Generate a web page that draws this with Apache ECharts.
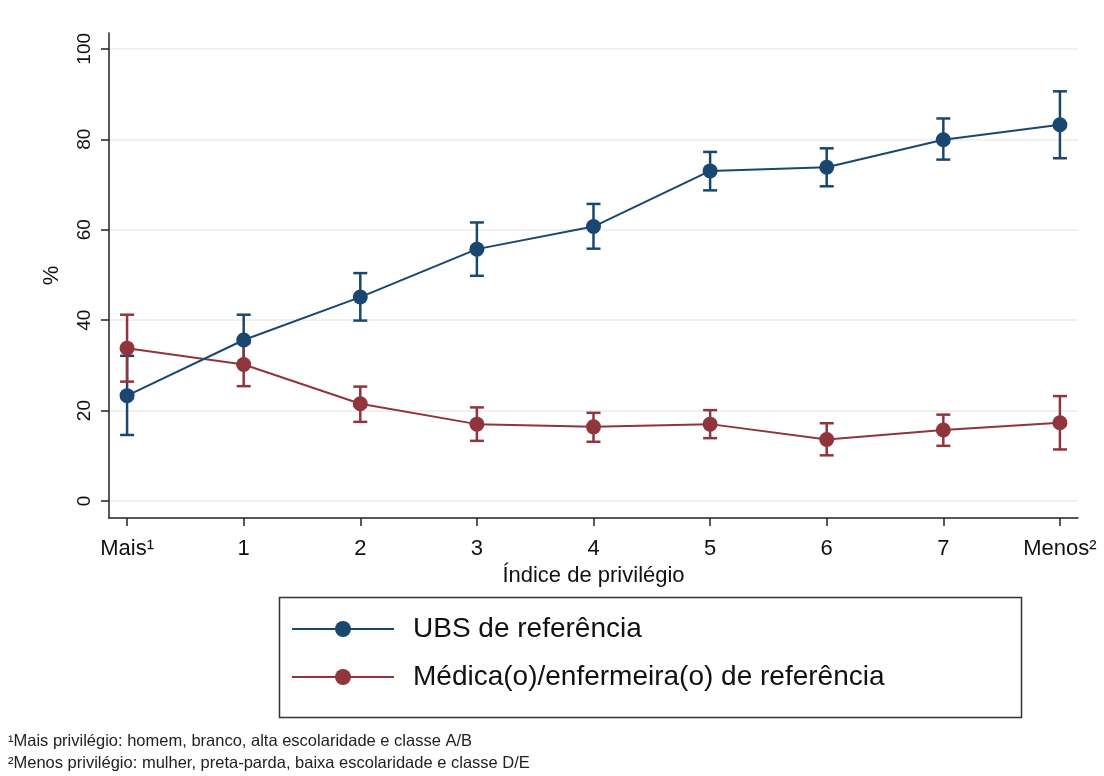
<!DOCTYPE html>
<html>
<head>
<meta charset="utf-8">
<script src="https://cdn.jsdelivr.net/npm/echarts@6/dist/echarts.min.js"></script>
<style>
html,body{margin:0;padding:0;background:#fff;}
#chart{width:1104px;height:776px;}
</style>
</head>
<body>
<div id="chart"></div>
<script>
const categories = ['Mais¹', '1', '2', '3', '4', '5', '6', '7', 'Menos²'];
const yTicks = [0, 20, 40, 60, 80, 100];

const ubsName = 'UBS de referência';
const ubs   = [23.3, 35.6, 45.1, 55.7, 60.7, 73.0, 73.8, 79.9, 83.2];
const ubsLo = [14.6, 30.0, 39.9, 49.8, 55.8, 68.7, 69.6, 75.5, 75.8];
const ubsHi = [32.1, 41.2, 50.4, 61.6, 65.7, 77.2, 78.0, 84.6, 90.6];

const medName = 'Médica(o)/enfermeira(o) de referência';
const med   = [33.8, 30.2, 21.5, 17.0, 16.4, 17.0, 13.6, 15.7, 17.3];
const medLo = [26.4, 25.4, 17.5, 13.3, 13.1, 13.9, 10.1, 12.2, 11.4];
const medHi = [41.2, 34.9, 25.3, 20.7, 19.5, 20.1, 17.2, 19.1, 23.2];

const footnotes = [
  '¹Mais privilégio: homem, branco, alta escolaridade e classe A/B',
  '²Menos privilégio: mulher, preta-parda, baixa escolaridade e classe D/E'
];

const BLUE = '#1a476f';
const RED = '#90353b';
const FONT = '"Liberation Sans", Arial, sans-serif';

function errData(lo, hi) {
  return lo.map((v, i) => [i, v, hi[i]]);
}
function errSeries(name, lo, hi, color) {
  return {
    type: 'custom',
    name: name,
    data: errData(lo, hi),
    z: 2,
    silent: true,
    encode: { x: 0, y: [1, 2] },
    renderItem: function (params, api) {
      const x = api.value(0);
      const pLo = api.coord([x, api.value(1)]);
      const pHi = api.coord([x, api.value(2)]);
      const half = 7;
      const st = { stroke: color, lineWidth: 2.5, fill: null };
      return {
        type: 'group',
        children: [
          { type: 'line', shape: { x1: pLo[0], y1: pLo[1], x2: pHi[0], y2: pHi[1] }, style: st },
          { type: 'line', shape: { x1: pLo[0] - half, y1: pLo[1], x2: pLo[0] + half, y2: pLo[1] }, style: st },
          { type: 'line', shape: { x1: pHi[0] - half, y1: pHi[1], x2: pHi[0] + half, y2: pHi[1] }, style: st }
        ]
      };
    }
  };
}
function lineSeries(name, vals, color) {
  return {
    type: 'line',
    name: name,
    data: vals.map((v, i) => [i, v]),
    z: 3,
    symbol: 'circle',
    symbolSize: 15,
    itemStyle: { color: color },
    lineStyle: { color: color, width: 2 },
    emphasis: { disabled: true },
    animation: false
  };
}

const chart = echarts.init(document.getElementById('chart'), null, { renderer: 'canvas' });
chart.setOption({
  animation: false,
  backgroundColor: '#ffffff',
  textStyle: { fontFamily: FONT },
  grid: { left: 109, right: 26, top: 33, bottom: 776 - 518, containLabel: false },
  xAxis: {
    type: 'value',
    min: -0.155,
    max: 8.155,
    name: 'Índice de privilégio',
    nameLocation: 'middle',
    nameGap: 42,
    nameTextStyle: { fontSize: 22, color: '#111', fontFamily: FONT },
    axisLine: { show: true, onZero: false, lineStyle: { color: '#222', width: 1.5 } },
    axisTick: { show: true, length: 8, customValues: categories.map((c, i) => i), lineStyle: { color: '#222', width: 1.5 } },
    axisLabel: {
      customValues: categories.map((c, i) => i),
      formatter: function (v) { return categories[Math.round(v)]; },
      fontSize: 22, color: '#111', margin: 20, fontFamily: FONT
    },
    splitLine: { show: false }
  },
  yAxis: {
    type: 'value',
    min: -3.76,
    max: 103.5,
    name: '%',
    nameLocation: 'middle',
    nameRotate: 90,
    nameGap: 46,
    nameTextStyle: { fontSize: 22, color: '#111', fontFamily: FONT },
    axisLine: { show: true, onZero: false, lineStyle: { color: '#222', width: 1.5 } },
    axisTick: { show: true, length: 8, customValues: yTicks, lineStyle: { color: '#222', width: 1.5 } },
    axisLabel: {
      customValues: yTicks,
      rotate: 90,
      fontSize: 19, color: '#111', margin: 15, fontFamily: FONT
    },
    splitLine: { show: true, lineStyle: { color: '#ebebeb', width: 1.5 } }
  },
  legend: {
    orient: 'vertical',
    left: 286,
    top: 608,
    itemWidth: 102,
    itemHeight: 20,
    itemGap: 16,
    data: [ubsName, medName],
    selectedMode: false,
    textStyle: { fontSize: 28, color: '#111', lineHeight: 32, padding: [0, 0, 0, 14], fontFamily: FONT }
  },
  graphic: [
    { type: 'rect', left: 277, top: 595, shape: { width: 742, height: 120 }, style: { fill: null, stroke: '#333', lineWidth: 1.5 }, z: 10 },
    { type: 'text', left: 8, top: 733, style: { text: footnotes[0], fontSize: 16.5, fill: '#222', fontFamily: FONT } },
    { type: 'text', left: 8, top: 755, style: { text: footnotes[1], fontSize: 16.5, fill: '#222', fontFamily: FONT } }
  ],
  series: [
    errSeries('errUbs', ubsLo, ubsHi, BLUE),
    errSeries('errMed', medLo, medHi, RED),
    lineSeries(medName, med, RED),
    lineSeries(ubsName, ubs, BLUE)
  ]
});
</script>
</body>
</html>
